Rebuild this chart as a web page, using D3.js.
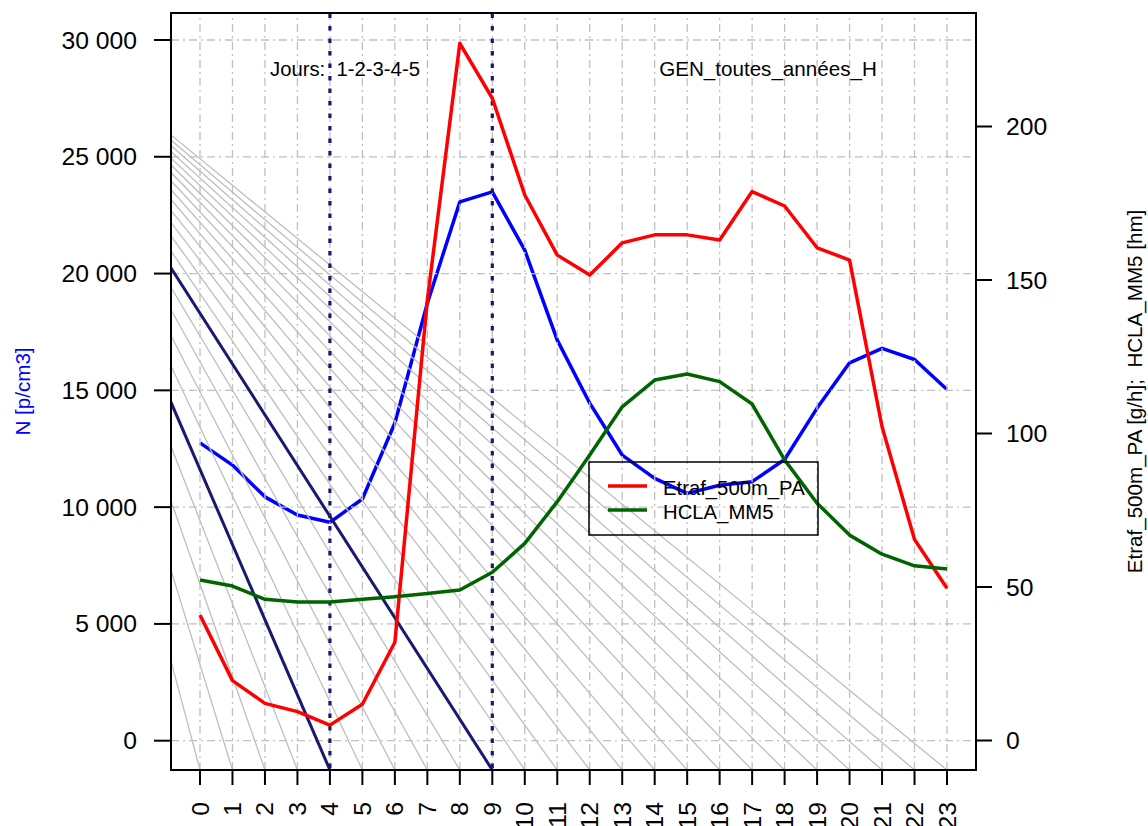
<!DOCTYPE html>
<html>
<head>
<meta charset="utf-8">
<script src="https://cdn.jsdelivr.net/npm/d3@7"></script>
<style>
  html, body { margin: 0; padding: 0; background: #fff; }
  svg { display: block; font-family: "Liberation Sans", Arial, Helvetica, sans-serif; }
  text { white-space: pre; }
</style>
</head>
<body>
<svg id="chart" width="1148" height="826"></svg>
<script>
// Hours of the day (x categories)
const hours = [0,1,2,3,4,5,6,7,8,9,10,11,12,13,14,15,16,17,18,19,20,21,22,23];

// N [p/cm3] – left axis
const nValues = [12750, 11800, 10440, 9660, 9350, 10350, 13600, 18730, 23070, 23500,
                 21000, 17150, 14450, 12230, 11230, 10590, 10940, 11090, 12040, 14240,
                 16180, 16800, 16320, 15040];

// Etraf_500m_PA [g/h] – right axis
const etrafValues = [40.9, 19.5, 12.1, 9.4, 5.0, 11.8, 32.0, 143.5, 227.1, 209.2,
                     177.7, 158.1, 151.6, 162.1, 164.7, 164.7, 163.0, 178.8, 174.1, 160.5,
                     156.5, 102.2, 65.5, 49.6];

// HCLA_MM5 [hm] – right axis
const hclaValues = [52.3, 50.3, 46.0, 45.1, 45.1, 46.0, 46.8, 47.9, 49.0, 54.8,
                    64.2, 77.8, 93.0, 108.7, 117.4, 119.4, 116.9, 109.6, 91.4, 77.3,
                    66.9, 60.7, 56.9, 55.9];

// Axis ticks
const leftTicks = [0, 5000, 10000, 15000, 20000, 25000, 30000];
const rightTicks = [0, 50, 100, 150, 200];

// Guide-line fan: every line runs from a common apex down to the axis at one hour
const fanEnds = [0,1,2,3,4,5,6,7,8,9,10,11,12,13,14,15,16,17,18,19,20,21,22,23];
const fanApex = { hour: -6.4, n: 32200 };
const markedHours = [4, 9];

// Legend entries
const legendLabels = ["Etraf_500m_PA", "HCLA_MM5"];
const legendColors = ["#ff0000", "#006400"];

const svg = d3.select("#chart");
const plot = { left: 171, right: 976, top: 13, bottom: 770 };

const x = d3.scaleLinear().domain([0, 23]).range([200, 947]);
const yL = d3.scaleLinear().domain([0, 30000]).range([740.7, 40]);
const yR = d3.scaleLinear().domain([0, 200]).range([740.5, 126.5]);

const fmtThousands = v => d3.format(",")(v).replace(/,/g, " ");

svg.append("defs").append("clipPath").attr("id", "plotClip")
  .append("rect")
  .attr("x", plot.left).attr("y", plot.top)
  .attr("width", plot.right - plot.left).attr("height", plot.bottom - plot.top);

const g = svg.append("g");

// N series (drawn first, under the grid)
g.append("path")
  .datum(nValues)
  .attr("fill", "none")
  .attr("stroke", "#0000ff")
  .attr("stroke-width", 3.5)
  .attr("stroke-linejoin", "round")
  .attr("d", d3.line().x((d, i) => x(hours[i])).y(d => yL(d)));

// Grid
const grid = g.append("g").attr("stroke", "#c0c0c0").attr("stroke-width", 1.3)
  .attr("stroke-dasharray", "8,4,2,4");
grid.selectAll("line.v").data(hours).join("line")
  .attr("x1", d => x(d)).attr("x2", d => x(d))
  .attr("y1", plot.bottom).attr("y2", plot.top);
grid.selectAll("line.h").data(leftTicks).join("line")
  .attr("y1", d => yL(d)).attr("y2", d => yL(d))
  .attr("x1", plot.left).attr("x2", plot.right);

// Fan of guide lines
const fanBottomN = yL.invert(plot.bottom);
const fanLine = k => d3.line().x(d => x(d[0])).y(d => yL(d[1]))(
  [[fanApex.hour, fanApex.n], [k, fanBottomN]]);
const fan = g.append("g").attr("clip-path", "url(#plotClip)");
fan.selectAll("path.gray").data(fanEnds).join("path")
  .attr("fill", "none").attr("stroke", "#bebebe").attr("stroke-width", 1.3)
  .attr("d", fanLine);
fan.selectAll("path.mark").data(markedHours).join("path")
  .attr("fill", "none").attr("stroke", "#191970").attr("stroke-width", 3)
  .attr("d", fanLine);

// Dotted verticals at the marked hours
g.selectAll("line.mark").data(markedHours).join("line")
  .attr("x1", d => x(d)).attr("x2", d => x(d))
  .attr("y1", plot.bottom - 2).attr("y2", plot.top)
  .attr("stroke", "#191970").attr("stroke-width", 3.2)
  .attr("stroke-dasharray", "4.5,8");

// Etraf and HCLA series
g.append("path")
  .datum(etrafValues)
  .attr("fill", "none").attr("stroke", "#ff0000").attr("stroke-width", 3.5)
  .attr("stroke-linejoin", "round")
  .attr("d", d3.line().x((d, i) => x(hours[i])).y(d => yR(d)));
g.append("path")
  .datum(hclaValues)
  .attr("fill", "none").attr("stroke", "#006400").attr("stroke-width", 3.5)
  .attr("stroke-linejoin", "round")
  .attr("d", d3.line().x((d, i) => x(hours[i])).y(d => yR(d)));

// Frame
svg.append("rect")
  .attr("x", plot.left).attr("y", plot.top)
  .attr("width", plot.right - plot.left).attr("height", plot.bottom - plot.top)
  .attr("fill", "none").attr("stroke", "#000").attr("stroke-width", 2);

// Left axis
const axL = svg.append("g");
axL.selectAll("line").data(leftTicks).join("line")
  .attr("x1", plot.left - 17).attr("x2", plot.left)
  .attr("y1", d => yL(d)).attr("y2", d => yL(d))
  .attr("stroke", "#000").attr("stroke-width", 2);
axL.selectAll("text").data(leftTicks).join("text")
  .attr("x", 137).attr("y", d => yL(d))
  .attr("text-anchor", "end").attr("dominant-baseline", "central")
  .attr("font-size", 24.7).attr("fill", "#000")
  .text(fmtThousands);

// Right axis
const axR = svg.append("g");
axR.selectAll("line").data(rightTicks).join("line")
  .attr("x1", plot.right).attr("x2", plot.right + 16)
  .attr("y1", d => yR(d)).attr("y2", d => yR(d))
  .attr("stroke", "#000").attr("stroke-width", 2);
axR.selectAll("text").data(rightTicks).join("text")
  .attr("x", 1006).attr("y", d => yR(d))
  .attr("text-anchor", "start").attr("dominant-baseline", "central")
  .attr("font-size", 24.7).attr("fill", "#000")
  .text(d => d);

// Bottom axis
const axB = svg.append("g");
axB.selectAll("line").data(hours).join("line")
  .attr("x1", d => x(d)).attr("x2", d => x(d))
  .attr("y1", plot.bottom).attr("y2", plot.bottom + 15)
  .attr("stroke", "#000").attr("stroke-width", 2);
axB.selectAll("text").data(hours).join("text")
  .attr("transform", d => `translate(${x(d)},802) rotate(-90)`)
  .attr("text-anchor", "end").attr("dominant-baseline", "central")
  .attr("font-size", 24.7).attr("fill", "#000")
  .text(d => d);

// Axis titles
svg.append("text")
  .attr("transform", `translate(22,${(plot.top + plot.bottom) / 2}) rotate(-90)`)
  .attr("text-anchor", "middle").attr("dominant-baseline", "central")
  .attr("font-size", 20.6).attr("fill", "#0000ff")
  .text("N [p/cm3]");
svg.append("text")
  .attr("transform", `translate(1134,${(plot.top + plot.bottom) / 2}) rotate(-90)`)
  .attr("text-anchor", "middle").attr("dominant-baseline", "central")
  .attr("font-size", 20.6).attr("fill", "#000")
  .text("Etraf_500m_PA [g/h];  HCLA_MM5 [hm]");

// In-plot annotations
svg.append("text").attr("x", 270).attr("y", 76)
  .attr("font-size", 20.3).attr("fill", "#000")
  .text("Jours:  1-2-3-4-5");
svg.append("text").attr("x", 768).attr("y", 76)
  .attr("text-anchor", "middle")
  .attr("font-size", 20.6).attr("fill", "#000")
  .text("GEN_toutes_années_H");

// Legend
const lg = svg.append("g");
lg.append("rect")
  .attr("x", 589).attr("y", 462).attr("width", 229).attr("height", 73)
  .attr("fill", "none").attr("stroke", "#000").attr("stroke-width", 1.5);
const rowY = [486, 510];
lg.selectAll("line").data(legendLabels).join("line")
  .attr("x1", 608).attr("x2", 647)
  .attr("y1", (d, i) => rowY[i]).attr("y2", (d, i) => rowY[i])
  .attr("stroke", (d, i) => legendColors[i]).attr("stroke-width", 3.5);
lg.selectAll("text").data(legendLabels).join("text")
  .attr("x", 663).attr("y", (d, i) => rowY[i] + 2)
  .attr("dominant-baseline", "central")
  .attr("font-size", 20.3).attr("fill", "#000")
  .text(d => d);
</script>
</body>
</html>
